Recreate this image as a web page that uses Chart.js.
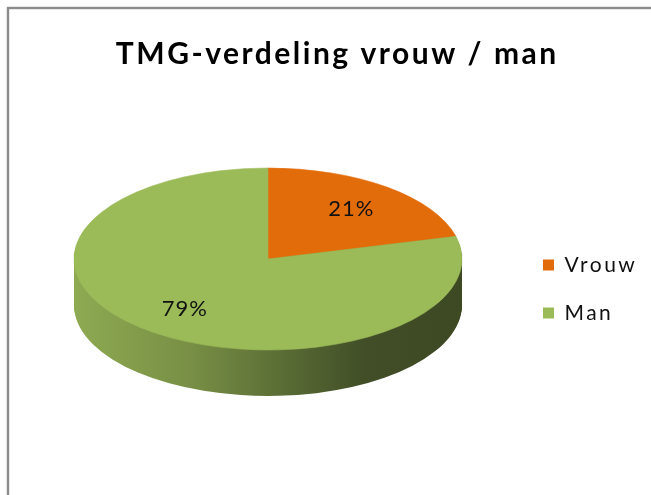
<!DOCTYPE html>
<html>
<head>
<meta charset="utf-8">
<script src="https://cdn.jsdelivr.net/npm/chart.js@4/dist/chart.umd.min.js"></script>
<style>
html,body{margin:0;padding:0;background:#fff;overflow:hidden}
canvas{display:block}
</style>
</head>
<body>
<canvas id="c" width="651" height="495"></canvas>
<script>
// ---- data ----
const categories = ['Vrouw', 'Man'];
const values = [21, 79];
const valueLabels = ['21%', '79%'];
const chartTitle = 'TMG-verdeling vrouw / man';

// ---- style ----
const sliceColors = ['#E36C0A', '#9BBB59'];
const PIE = { cx: 268, cy: 259, ry: 91, depth: 46, labelFrac: 0.7 };
const LEGEND_BOX_X = 543;
const LEGEND_MID_Y = 289;
const TITLE_CENTER_X = 336;
const TEXT_SPACING = 2.5;

function sidePaint(ctx, i, x0, x1) {
  const g = ctx.createLinearGradient(x0, 0, x1, 0);
  if (i === 0) {
    g.addColorStop(0, '#B4580A'); g.addColorStop(1, '#7A3A05');
  } else {
    g.addColorStop(0, '#8EAA52');
    g.addColorStop(0.3, '#788F45');
    g.addColorStop(0.55, '#586B34');
    g.addColorStop(0.75, '#414E27');
    g.addColorStop(1, '#3D4923');
  }
  return g;
}

const pie3d = {
  id: 'pie3d',
  beforeLayout(chart) { chart.ctx.letterSpacing = TEXT_SPACING + 'px'; },
  afterLayout(chart) { chart.ctx.letterSpacing = '0px'; },
  beforeDraw(chart) {
    const ctx = chart.ctx;
    ctx.save();
    ctx.letterSpacing = '0px';
    ctx.fillStyle = '#ffffff';
    ctx.fillRect(0, 0, chart.width, chart.height);
    ctx.strokeStyle = '#8C8C8C';
    ctx.lineWidth = 2.4;
    ctx.strokeRect(8, 8, chart.width + 40, chart.height + 40);
    ctx.restore();
    ctx.letterSpacing = TEXT_SPACING + 'px';
  },
  beforeDatasetsDraw(chart) {
    const ctx = chart.ctx;
    ctx.letterSpacing = '0px';
    const arcs = chart.getDatasetMeta(0).data;
    if (!arcs.length) return false;
    const ox = arcs[0].x, oy = arcs[0].y, r = arcs[0].outerRadius;
    const k = PIE.ry / r;
    const path = (a) => {
      ctx.beginPath();
      ctx.moveTo(a.x, a.y);
      ctx.arc(a.x, a.y, a.outerRadius, a.startAngle, a.endAngle);
      ctx.closePath();
    };
    const fills = arcs.map((a, i) => sidePaint(ctx, i, ox - r, ox + r));
    for (let d = PIE.depth; d >= 1; d--) {
      ctx.save();
      ctx.translate(PIE.cx, PIE.cy + d);
      ctx.scale(1, k);
      ctx.translate(-ox, -oy);
      arcs.forEach((a, i) => { path(a); ctx.fillStyle = fills[i]; ctx.fill(); });
      ctx.restore();
    }
    ctx.save();
    ctx.translate(PIE.cx, PIE.cy);
    ctx.scale(1, k);
    ctx.translate(-ox, -oy);
    arcs.forEach((a) => {
      path(a);
      ctx.fillStyle = a.options.backgroundColor;
      ctx.fill();
      ctx.strokeStyle = a.options.backgroundColor;
      ctx.lineWidth = 0.8;
      ctx.stroke();
    });
    ctx.restore();
    // value labels
    ctx.save();
    ctx.font = '22px Lato';
    ctx.letterSpacing = '1px';
    ctx.fillStyle = '#111';
    ctx.textAlign = 'center';
    ctx.textBaseline = 'middle';
    arcs.forEach((a, i) => {
      const mid = (a.startAngle + a.endAngle) / 2;
      const x = PIE.cx + Math.cos(mid) * a.outerRadius * PIE.labelFrac;
      const y = PIE.cy + Math.sin(mid) * a.outerRadius * PIE.labelFrac * k;
      ctx.fillText(valueLabels[i], x, y);
    });
    ctx.restore();
    return false;
  }
};

const chart = new Chart(document.getElementById('c'), {
  type: 'pie',
  data: {
    labels: categories,
    datasets: [{
      data: values,
      backgroundColor: sliceColors,
      borderWidth: 0,
      radius: 194
    }]
  },
  options: {
    responsive: false,
    animation: false,
    events: [],
    layout: { padding: { left: 10, right: 10, top: 0, bottom: 0 } },
    plugins: {
      title: {
        display: true,
        text: chartTitle,
        color: '#000',
        font: { family: 'Lato', size: 30, weight: 'bold', lineHeight: 1.2 },
        padding: { top: 36, bottom: 12 }
      },
      legend: {
        position: 'right',
        align: 'center',
        fullSize: false,
        labels: {
          boxWidth: 11,
          boxHeight: 11,
          padding: 27,
          color: '#111',
          font: { family: 'Lato', size: 21 }
        }
      },
      tooltip: { enabled: false }
    }
  },
  plugins: [pie3d]
});

// position legend column, title centre and legend vertical centre
const lg = chart.legend;
const pad = chart.options.layout.padding;
pad.right += lg.left - (LEGEND_BOX_X - lg.options.labels.padding);
pad.left = Math.max(0, 2 * TITLE_CENTER_X + TEXT_SPACING - chart.width + pad.right);
pad.bottom = Math.max(0, chart.height - (2 * LEGEND_MID_Y - chart.chartArea.top));
chart.update();
</script>
</body>
</html>
